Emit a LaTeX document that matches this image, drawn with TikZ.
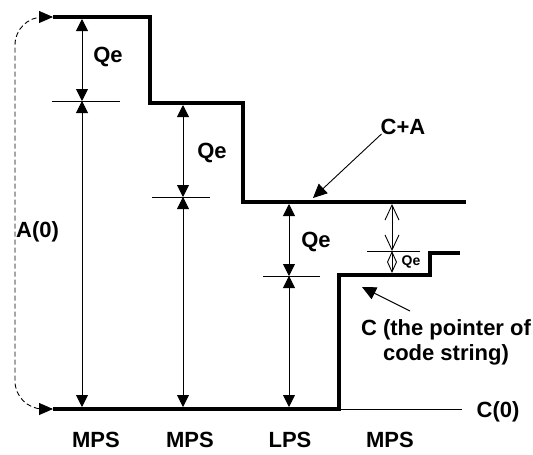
\documentclass[tikz,border=0pt]{standalone}
\usepackage{fontspec}
\setmainfont{Liberation Sans}
\usetikzlibrary{arrows.meta}

\begin{document}
\begin{tikzpicture}[x=1pt, y=-1pt,
    every node/.style={font=\fontsize{22}{25}\selectfont\bfseries, inner sep=0pt, align=center},
    codeline/.style={line width=4pt, line join=miter},
    thinline/.style={line width=0.9pt},
    dimarrow/.style={line width=0.9pt, {Triangle[length=12pt, width=12pt]}-{Triangle[length=12pt, width=12pt]}},
    openarrow/.style={line width=0.9pt, {Straight Barb[length=15pt, width=14pt]}-{Straight Barb[length=15pt, width=14pt]}},
    smallarrow/.style={line width=0.9pt, {Straight Barb[length=10pt, width=9pt]}-{Straight Barb[length=10pt, width=9pt]}},
    pointer/.style={line width=0.9pt, -{Triangle[length=14pt, width=13pt]}},
    loopline/.style={line width=0.9pt, dash pattern=on 5pt off 3pt, rounded corners=28pt,
      {Triangle[length=14pt, width=12pt]}-{Triangle[length=14pt, width=12pt]}}]
  \useasboundingbox (0,0) rectangle (533,455);

  % code register C+A (top) and code string C (bottom)
  \coordinate (tl) at (53,17);
  \coordinate (bl) at (53,409);
  \draw[codeline] (tl) -- (150,17) -- (150,103) -- (243,103) -- (243,202) -- (466,202);
  \draw[codeline] (bl) -- (339,409) -- (339,275) -- (430,275) -- (430,253) -- (460,253);
  \draw[thinline] (339,409) -- (462,409);

  % A(0): dashed loop from C(0) up to the top
  \draw[loopline] (bl) -- (15,409) -- (15,17) -- (tl);
  \node[anchor=west] (a0) at (16,232) {A(0)};

  % dimension arrows of the three first symbols
  \foreach \i/\x/\t/\m/\l/\r/\qx/\qy in {1/82/19/101/52/120/108/57, 2/183/105/197/152/210/212/153, 3/289/204/276/263/320/316/242} {
    \coordinate (top\i) at (\x,\t);
    \coordinate (mid\i) at (\x,\m);
    \coordinate (bot\i) at (\x,407);
    \draw[thinline] (\l,\m) -- (\r,\m);
    \draw[dimarrow] (top\i) -- (mid\i);
    \draw[dimarrow] (mid\i) -- (bot\i);
    \node (qe\i) at (\qx,\qy) {Qe};
  }

  % last symbol: open arrows
  \coordinate (top4) at (392,204);
  \coordinate (mid4) at (392,251);
  \coordinate (bot4) at (392,273);
  \draw[thinline] (367,251) -- (420,251);
  \draw[openarrow] (top4) -- (mid4);
  \draw[smallarrow] (mid4) -- (bot4);
  \node[font=\fontsize{14}{16}\selectfont\bfseries] (qe4) at (411,262) {Qe};

  % labels and pointers
  \node (ca) at (403,127) {C+A};
  \coordinate (catip) at (313,198);
  \draw[pointer] ([shift={(1,-1)}]ca.south west) -- (catip);
  \node (cpt) at (446,342) {C (the pointer of\\code string)};
  \coordinate (ctail) at (410,311);
  \coordinate (ctip) at (362,287);
  \draw[pointer] (ctail) -- (ctip);
  \node (c0) at (498,412) {C(0)};

  \foreach \x/\s [count=\k] in {96/MPS, 190/MPS, 290/LPS, 390/MPS}
    \node (sym\k) at (\x,440) {\s};
\end{tikzpicture}
\end{document}
